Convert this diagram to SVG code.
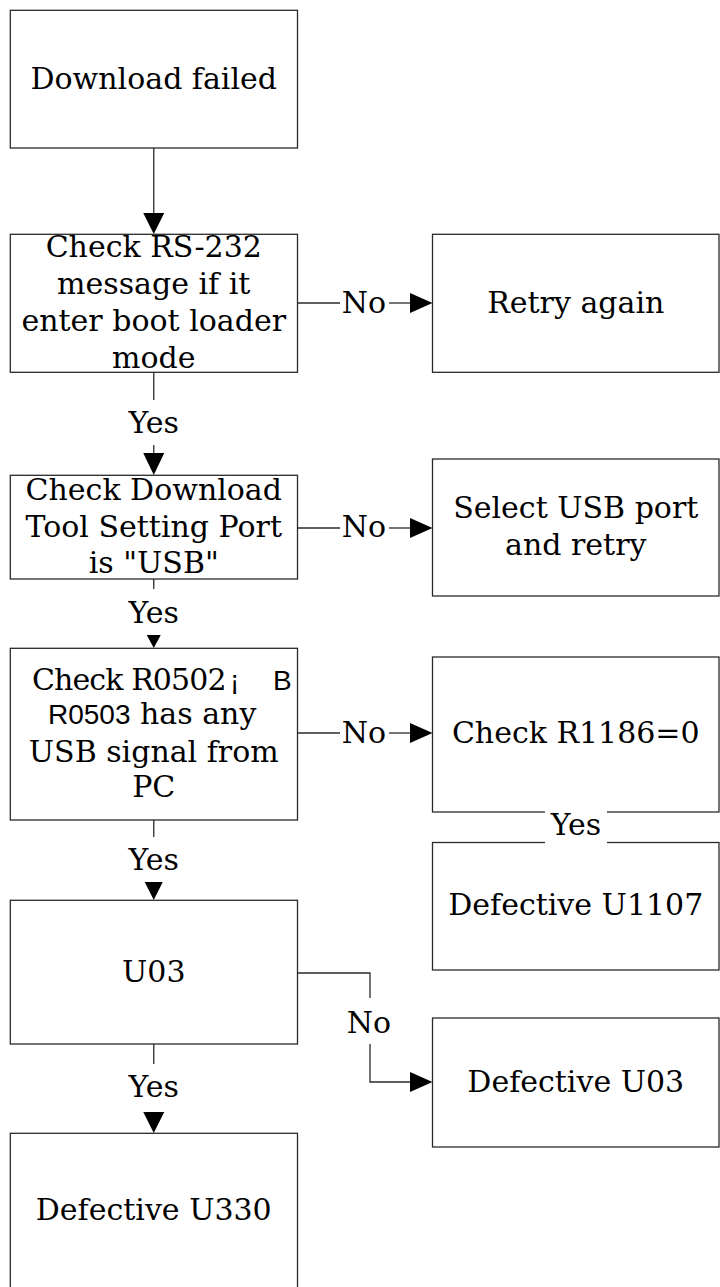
<svg xmlns="http://www.w3.org/2000/svg" width="720" height="1287" viewBox="0 0 720 1287">
  <style>
    .box { fill: #ffffff; stroke: #2a2a2a; stroke-width: 1.3; }
    .t { font-family: "DejaVu Serif", "Liberation Serif", serif; font-size: 30px; fill: #000; text-anchor: middle; }
    .ts { font-family: "DejaVu Serif", "Liberation Serif", serif; font-size: 30px; fill: #000; }
    .s { font-family: "Liberation Sans", Arial, sans-serif; font-size: 28px; fill: #000; }
    .ln { fill: none; stroke: #2a2a2a; stroke-width: 1.3; }
    .ah { fill: #000; }
  </style>
  <rect width="720" height="1287" fill="#ffffff"/>

  <!-- connectors -->
  <g id="connectors">
    <!-- Download failed -> RS-232 check -->
    <line class="ln" x1="153.75" y1="148" x2="153.75" y2="214"/>
    <polygon class="ah" points="143.25,213 164.25,213 153.75,234"/>

    <!-- RS-232 check: No -> Retry again -->
    <line class="ln" x1="297.5" y1="303" x2="340" y2="303"/>
    <text class="t" x="364" y="313">No</text>
    <line class="ln" x1="389" y1="303" x2="411" y2="303"/>
    <polygon class="ah" points="410,293 410,313 432.5,303"/>

    <!-- RS-232 check: Yes -> Download Tool check -->
    <line class="ln" x1="153.75" y1="372" x2="153.75" y2="400"/>
    <text class="t" x="153.75" y="433">Yes</text>
    <line class="ln" x1="153.75" y1="445" x2="153.75" y2="454"/>
    <polygon class="ah" points="143.25,453 164.25,453 153.75,475"/>

    <!-- Download Tool check: No -> Select USB port -->
    <line class="ln" x1="297.5" y1="528" x2="340" y2="528"/>
    <text class="t" x="364" y="537">No</text>
    <line class="ln" x1="389" y1="528" x2="411" y2="528"/>
    <polygon class="ah" points="410,518 410,538 432.5,528"/>

    <!-- Download Tool check: Yes -> R0502/R0503 check -->
    <line class="ln" x1="153.75" y1="579" x2="153.75" y2="589"/>
    <text class="t" x="153.75" y="623">Yes</text>
    <polygon class="ah" points="146.75,635 160.75,635 153.75,648"/>

    <!-- R0502/R0503 check: No -> Check R1186 -->
    <line class="ln" x1="297.5" y1="733" x2="340" y2="733"/>
    <text class="t" x="364" y="743">No</text>
    <line class="ln" x1="389" y1="733" x2="411" y2="733"/>
    <polygon class="ah" points="410,723 410,743 432.5,733"/>

    <!-- R0502/R0503 check: Yes -> U03 -->
    <line class="ln" x1="153.75" y1="820" x2="153.75" y2="837"/>
    <text class="t" x="153.75" y="870">Yes</text>
    <polygon class="ah" points="144.75,882 162.75,882 153.75,900"/>

    <!-- U03: No -> Defective U03 -->
    <polyline class="ln" points="297.5,973 370,973 370,998"/>
    <text class="t" x="369" y="1033">No</text>
    <polyline class="ln" points="370,1044 370,1082 411,1082"/>
    <polygon class="ah" points="410,1072 410,1092 432.5,1082"/>

    <!-- U03: Yes -> Defective U330 -->
    <line class="ln" x1="153.75" y1="1044" x2="153.75" y2="1064"/>
    <text class="t" x="153.75" y="1097">Yes</text>
    <polygon class="ah" points="143.25,1112 164.25,1112 153.75,1133"/>
  </g>

  <!-- nodes -->
  <g id="n-download-failed">
    <rect class="box" x="10.3" y="10.3" width="287.2" height="137.7"/>
    <text class="t" x="153.75" y="89">Download failed</text>
  </g>

  <g id="n-check-rs232">
    <rect class="box" x="10.3" y="234.3" width="287.2" height="138"/>
    <text class="t" x="153.75" y="257">Check RS-232</text>
    <text class="t" x="153.75" y="294">message if it</text>
    <text class="t" x="153.75" y="331">enter boot loader</text>
    <text class="t" x="153.75" y="368">mode</text>
  </g>

  <g id="n-retry">
    <rect class="box" x="432.5" y="234.3" width="286.5" height="138"/>
    <text class="t" x="575.75" y="313">Retry again</text>
  </g>

  <g id="n-check-tool-port">
    <rect class="box" x="10.3" y="475.3" width="287.2" height="103.7"/>
    <text class="t" x="153.75" y="500">Check Download</text>
    <text class="t" x="153.75" y="537">Tool Setting Port</text>
    <text class="t" x="153.75" y="573">is "USB"</text>
  </g>

  <g id="n-select-usb">
    <rect class="box" x="432.5" y="459" width="286.5" height="137"/>
    <text class="t" x="575.75" y="518">Select USB port</text>
    <text class="t" x="575.75" y="555">and retry</text>
  </g>

  <g id="n-check-usb-signal">
    <rect class="box" x="10.3" y="648.3" width="287.2" height="171.7"/>
    <!-- first line mixes the serif face with a sans "¡ B" pair -->
    <text class="ts" y="690"><tspan x="32" letter-spacing="-0.9">Check R0502</tspan><tspan class="s" x="230">¡</tspan><tspan class="s" x="273">B</tspan></text>
    <text class="s" x="48" y="724">R0503<tspan class="ts"> has any</tspan></text>
    <text class="t" x="153.75" y="762">USB signal from</text>
    <text class="t" x="153.75" y="797">PC</text>
  </g>

  <g id="n-check-r1186">
    <rect class="box" x="432.5" y="657" width="286.5" height="155"/>
    <text class="t" x="575.75" y="743">Check R1186=0</text>
  </g>

  <g id="n-defective-u1107">
    <rect class="box" x="432.5" y="842.5" width="286.5" height="127.5"/>
    <text class="t" x="575.75" y="915">Defective U1107</text>
  </g>

  <!-- "Yes" between R1186 check and U1107, set on a white patch over both box edges -->
  <g id="lbl-r1186-yes">
    <rect x="545" y="808" width="62" height="38" fill="#ffffff"/>
    <text class="t" x="576" y="835">Yes</text>
  </g>

  <g id="n-u03">
    <rect class="box" x="10.3" y="900.3" width="287.2" height="143.7"/>
    <text class="t" x="153.75" y="982">U03</text>
  </g>

  <g id="n-defective-u03">
    <rect class="box" x="432.5" y="1018" width="286.5" height="129"/>
    <text class="t" x="575.75" y="1092">Defective U03</text>
  </g>

  <g id="n-defective-u330">
    <rect class="box" x="10.3" y="1133.3" width="287.2" height="180"/>
    <text class="t" x="153.75" y="1220">Defective U330</text>
  </g>
</svg>
